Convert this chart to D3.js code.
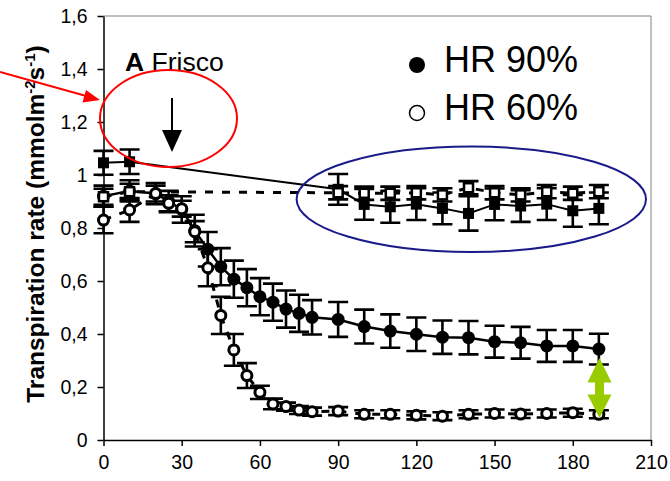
<!DOCTYPE html>
<html><head><meta charset="utf-8">
<script src="https://cdn.jsdelivr.net/npm/d3@7"></script>
<style>html,body{margin:0;padding:0;background:#fff;}svg{display:block;font-family:"Liberation Sans",Arial,sans-serif;}</style>
</head><body><svg id="c" width="670" height="481"></svg>
<script>
// ---- data ----
const xTicks = [0, 30, 60, 90, 120, 150, 180, 210];
const yTicks = [0, 0.2, 0.4, 0.6, 0.8, 1, 1.2, 1.4, 1.6];

// HR 90% (filled circles)
const hr90Time = [0,10,20,25,30,35,40,45,50,55,60,65,70,75,80,90,100,110,120,130,140,150,160,170,180,190];
const hr90Val  = [0.92,0.94,0.93,0.90,0.87,0.79,0.72,0.654,0.607,0.575,0.541,0.52,0.494,0.478,0.463,0.455,0.428,0.411,0.399,0.388,0.386,0.371,0.367,0.355,0.355,0.343];
const hr90Err  = [0.04,0.04,0.04,0.04,0.05,0.06,0.065,0.07,0.07,0.07,0.07,0.07,0.07,0.07,0.065,0.066,0.064,0.063,0.063,0.063,0.063,0.06,0.06,0.06,0.06,0.058];

// HR 60% (open circles)
const hr60Time = [0,10,20,25,30,35,40,45,50,55,60,65,70,75,80,90,100,110,120,130,140,150,160,170,180,190];
const hr60Val  = [0.83,0.868,0.93,0.893,0.873,0.786,0.65,0.47,0.34,0.243,0.18,0.136,0.126,0.113,0.107,0.109,0.097,0.097,0.093,0.09,0.097,0.10,0.098,0.10,0.103,0.097];
const hr60Err  = [0.05,0.045,0.03,0.03,0.03,0.04,0.07,0.07,0.06,0.047,0.025,0.02,0.015,0.015,0.015,0.015,0.015,0.015,0.015,0.015,0.015,0.015,0.015,0.015,0.015,0.015];

// control, filled squares
const ctl90Time = [0,10,90,100,110,120,130,140,150,160,170,180,190];
const ctl90Val  = [1.046,1.05,0.946,0.889,0.88,0.89,0.874,0.855,0.889,0.883,0.89,0.865,0.874];
const ctl90Err  = [0.045,0.046,0.058,0.058,0.06,0.06,0.06,0.065,0.06,0.06,0.06,0.06,0.06];

// control, open squares
const ctl60Time = [0,10,90,100,110,120,130,140,150,160,170,180,190];
const ctl60Val  = [0.918,0.937,0.933,0.931,0.931,0.933,0.925,0.952,0.933,0.925,0.937,0.931,0.937];
const ctl60Err  = [0.03,0.03,0.025,0.025,0.025,0.025,0.025,0.025,0.025,0.025,0.025,0.025,0.025];

// ---- chart ----
const svg = d3.select("#c");
const x = d3.scaleLinear().domain([0, 210]).range([103.5, 651]);
const y = d3.scaleLinear().domain([0, 1.6]).range([440, 16]);

// frame (top/right)
svg.append("path").attr("d", `M${x(0)},${y(1.6)}H${x(210)}V${y(0)}`)
  .attr("fill","none").attr("stroke","#808080").attr("stroke-width",1);

const fmt = d => String(Math.round(d*10)/10).replace(".", ",");
const gx = svg.append("g").attr("transform",`translate(0,${y(0)})`)
  .call(d3.axisBottom(x).tickValues(xTicks).tickSize(6).tickSizeOuter(0).tickPadding(9));
const gy = svg.append("g").attr("transform",`translate(${x(0)},0)`)
  .call(d3.axisLeft(y).tickValues(yTicks).tickFormat(fmt).tickSize(6).tickSizeOuter(0).tickPadding(10));
[gx, gy].forEach(g => {
  g.select(".domain").attr("stroke","#000").attr("stroke-width",1.5);
  g.selectAll(".tick line").attr("stroke","#000").attr("stroke-width",1.5);
  g.selectAll(".tick text").attr("fill","#000").style("font-size","19.5px").style("font-family","'Liberation Sans',Arial,sans-serif");
});

// y title
const yt = svg.append("text").attr("transform","translate(44,224) rotate(-90)")
  .attr("text-anchor","middle").style("font-size","24.5px").style("font-weight","bold").attr("fill","#000");
yt.append("tspan").text("Transpiration rate (mmolm");
yt.append("tspan").attr("dy",-9).style("font-size","15px").text("-2");
yt.append("tspan").attr("dy",9).text("s");
yt.append("tspan").attr("dy",-9).style("font-size","15px").text("-1");
yt.append("tspan").attr("dy",9).text(")");

// series helpers
function mk(t, v, e){ return t.map((d,i)=>({t:d, v:v[i], e:e[i]})); }
const s90 = mk(hr90Time, hr90Val, hr90Err);
const s60 = mk(hr60Time, hr60Val, hr60Err);
const c90 = mk(ctl90Time, ctl90Val, ctl90Err);
const c60 = mk(ctl60Time, ctl60Val, ctl60Err);

const line = d3.line().x(d=>x(d.t)).y(d=>y(d.v));
function drawLine(data, dashed, w){
  svg.append("path").datum(data).attr("d", line).attr("fill","none")
    .attr("stroke","#000").attr("stroke-width", w)
    .attr("stroke-dasharray", dashed ? "8,9" : null);
}
drawLine(c60, true, 3);
drawLine(s60, true, 3);
drawLine(c90, false, 2);
drawLine(s90, false, 2.5);

function drawErr(data){
  const g = svg.append("g").attr("stroke","#000").attr("stroke-width",2.6);
  g.selectAll("path").data(data).join("path")
    .attr("d", d => {
      const cx = x(d.t), y1 = y(d.v + d.e), y2 = y(d.v - d.e);
      return `M${cx},${y1}V${y2}M${cx-10},${y1}H${cx+10}M${cx-10},${y2}H${cx+10}`;
    });
}
drawErr(s90); drawErr(s60); drawErr(c90); drawErr(c60);

// markers
svg.append("g").selectAll("circle").data(s90).join("circle")
  .attr("cx", d=>x(d.t)).attr("cy", d=>y(d.v)).attr("r",6.5).attr("fill","#000");
svg.append("g").selectAll("circle").data(s60).join("circle")
  .attr("cx", d=>x(d.t)).attr("cy", d=>y(d.v)).attr("r",5).attr("fill","#fff")
  .attr("stroke","#000").attr("stroke-width",3);
svg.append("g").selectAll("rect").data(c90).join("rect")
  .attr("x", d=>x(d.t)-5.5).attr("y", d=>y(d.v)-5.5).attr("width",11).attr("height",11).attr("fill","#000");
svg.append("g").selectAll("rect").data(c60).join("rect")
  .attr("x", d=>x(d.t)-4.5).attr("y", d=>y(d.v)-4.5).attr("width",9).attr("height",9).attr("fill","#fff")
  .attr("stroke","#000").attr("stroke-width",2.5);

// annotations
const at = svg.append("text").attr("x",125).attr("y",71).style("font-size","26.5px").attr("fill","#000");
at.append("tspan").style("font-weight","bold").text("A");
at.append("tspan").text(" Frisco");

svg.append("circle").attr("cx",417).attr("cy",65).attr("r",8).attr("fill","#000");
svg.append("circle").attr("cx",417).attr("cy",113).attr("r",7.5).attr("fill","#fff").attr("stroke","#000").attr("stroke-width",1.5);
svg.append("text").attr("x",444).attr("y",72).style("font-size","36px").attr("fill","#000").text("HR 90%");
svg.append("text").attr("x",444).attr("y",120).style("font-size","36px").attr("fill","#000").text("HR 60%");

// red ellipse + arrow
svg.append("ellipse").attr("cx",168.5).attr("cy",118.5).attr("rx",68.5).attr("ry",48.5)
  .attr("fill","none").attr("stroke","#ff0000").attr("stroke-width",2);
svg.append("line").attr("x1",0).attr("y1",72).attr("x2",88).attr("y2",96.5)
  .attr("stroke","#ff0000").attr("stroke-width",2);
svg.append("path").attr("d","M100,100L82.5,102.5L86,90Z").attr("fill","#ff0000");

// black down arrow
svg.append("line").attr("x1",172).attr("y1",98).attr("x2",172).attr("y2",135)
  .attr("stroke","#000").attr("stroke-width",2);
svg.append("path").attr("d","M162,130L182,130L172,152Z").attr("fill","#000");

// blue ellipse
svg.append("ellipse").attr("cx",471.3).attr("cy",199.3).attr("rx",174.7).attr("ry",52.7)
  .attr("fill","none").attr("stroke","#1a1a8a").attr("stroke-width",2);

// green double arrow
svg.append("path").attr("d","M599.5,358L611.5,382.5L604,382.5L604,394.5L611.5,394.5L599.5,418L587.5,394.5L595,394.5L595,382.5L587.5,382.5Z")
  .attr("fill","#99cc00");
</script></body></html>
